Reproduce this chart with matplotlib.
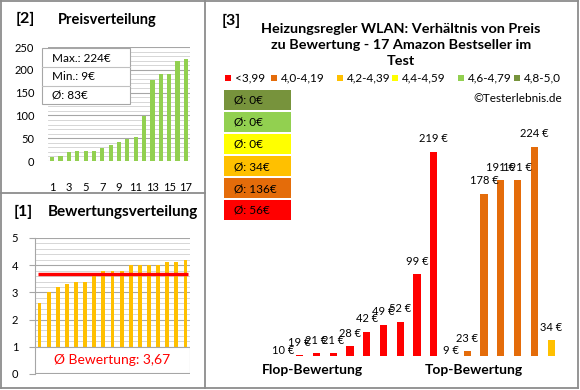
import matplotlib
matplotlib.use('Agg')
import matplotlib.pyplot as plt
from matplotlib.patches import Rectangle
from matplotlib.lines import Line2D
from matplotlib.ticker import MultipleLocator

plt.rcParams['font.family'] = ['Lato', 'DejaVu Sans']

# Daten: Preise und Bewertungen der 17 Produkte (von Flop nach Top)
preise = [10, 19, 21, 21, 28, 42, 49, 52, 99, 219, 9, 23, 178, 191, 191, 224, 34]
bewertungen = [2.6, 3.0, 3.2, 3.3, 3.4, 3.4, 3.6, 3.8, 3.8, 3.8,
               4.0, 4.0, 4.0, 4.0, 4.1, 4.1, 4.2]
mittel_bewertung = 3.67
preis_max, preis_min, preis_mittel = 224, 9, 83

gruppen = ['<3,99', '4,0-4,19', '4,2-4,39', '4,4-4,59', '4,6-4,79', '4,8-5,0']
gruppen_farben = ['#FF0000', '#E46C0A', '#FFC000', '#FFFF00', '#92D050', '#77933C']
gruppen_grenzen = [0, 4.0, 4.2, 4.4, 4.6, 4.8]
gruppen_mittel = [56, 136, 34, 0, 0, 0]

W, H = 580, 390
fig = plt.figure(figsize=(W / 100, H / 100), dpi=100)
fig.patch.set_facecolor('white')


def achse(x0, y0, x1, y1):
    # Achse in Pixelkoordinaten (von oben links) anlegen
    return fig.add_axes([x0 / W, 1 - y1 / H, (x1 - x0) / W, (y1 - y0) / H])


def fig_text(x, y, s, **kw):
    fig.text(x / W, 1 - y / H, s, **kw)


def fig_linie(x0, y0, x1, y1, farbe='#8C8C8C', lw=1.3):
    fig.add_artist(Line2D([x0 / W, x1 / W], [1 - y0 / H, 1 - y1 / H],
                          transform=fig.transFigure, color=farbe, lw=lw))


def fig_rechteck(x0, y0, x1, y1, fc, ec='none', lw=0.8):
    fig.add_artist(Rectangle((x0 / W, 1 - y1 / H), (x1 - x0) / W, (y1 - y0) / H,
                             transform=fig.transFigure, fc=fc, ec=ec, lw=lw))


# Rahmen der drei Felder
fig_linie(1, 1, 578, 1)
fig_linie(1, 388, 578, 388)
fig_linie(1, 1, 1, 388)
fig_linie(578, 1, 578, 388)
fig_linie(205, 1, 205, 388)
fig_linie(1, 193, 205, 193)

# ---------------- [2] Preisverteilung ----------------
fig_text(16, 19, '[2]', fontsize=11.5, fontweight='bold', va='center')
fig_text(58, 20, 'Preisverteilung', fontsize=10.5, fontweight='bold', va='center')

ax2 = achse(48, 47, 190, 161)
pos = list(range(1, len(preise) + 1))
ax2.bar(pos, sorted(preise), width=0.5, color='#92D050', zorder=3)
ax2.set_xlim(0.5, 17.5)
ax2.set_ylim(0, 250)
ax2.yaxis.set_major_locator(MultipleLocator(50))
ax2.yaxis.set_minor_locator(MultipleLocator(10))
ax2.set_xticks(pos[::2])
ax2.grid(which='major', axis='y', color='#A6A6A6', lw=0.8)
ax2.grid(which='minor', axis='y', color='#D0D0D0', lw=0.6)
for s in ax2.spines.values():
    s.set_visible(False)
ax2.tick_params(which='both', length=0, labelsize=8, pad=10)
ax2.tick_params(axis='x', pad=15)

fig_rechteck(42, 48, 130, 104, 'white', '#A6A6A6')
fig_linie(42, 67, 130, 67, '#C0C0C0', 0.8)
fig_linie(42, 86, 130, 86, '#C0C0C0', 0.8)
fig_text(52, 59, f'Max.: {preis_max}€', fontsize=8.5, va='center')
fig_text(52, 77, f'Min.: {preis_min}€', fontsize=8.5, va='center')
fig_text(52, 95, f'Ø: {preis_mittel}€', fontsize=8.5, va='center')

# ---------------- [1] Bewertungsverteilung ----------------
fig_text(14, 212, '[1]', fontsize=11.5, fontweight='bold', va='center')
fig_text(48, 212, 'Bewertungsverteilung', fontsize=11, fontweight='bold', va='center')

ax1 = achse(35, 238, 190, 374)
ax1.bar(pos, bewertungen, width=0.42, color='#FFC000', zorder=3)
ax1.set_xlim(0.5, 17.5)
ax1.set_ylim(0, 5)
ax1.yaxis.set_major_locator(MultipleLocator(1))
ax1.yaxis.set_minor_locator(MultipleLocator(0.2))
ax1.set_xticks([])
ax1.grid(which='major', axis='y', color='#A6A6A6', lw=0.8)
ax1.grid(which='minor', axis='y', color='#D0D0D0', lw=0.6)
for k in ['top', 'right', 'bottom']:
    ax1.spines[k].set_visible(False)
ax1.spines['left'].set_color('#A6A6A6')
ax1.tick_params(which='major', length=4, color='#A6A6A6', labelsize=8, pad=8)
ax1.tick_params(which='minor', length=0)
ax1.hlines(mittel_bewertung, 0.8, 17.25, color='#FF0000', lw=2.4, zorder=4)
ax1.add_patch(Rectangle((0.5, 0.03), 17, 0.97, fc='white', ec='#A6A6A6',
                        lw=0.8, zorder=5))
ax1.text(9, 0.52, 'Ø Bewertung: ' + f'{mittel_bewertung:.2f}'.replace('.', ','),
         color='#FF0000', fontsize=10, ha='center', va='center', zorder=6)

# ---------------- [3] Preis / Bewertung ----------------
fig_text(222, 21, '[3]', fontsize=11.5, fontweight='bold', va='center')
fig_text(401, 45, 'Heizungsregler WLAN: Verhältnis von Preis\n'
         'zu Bewertung - 17 Amazon Bestseller im\nTest',
         fontsize=10.4, fontweight='bold', ha='center', va='center',
         linespacing=1.42)

# Legende
leg_x = [225, 271, 337, 392, 458, 514]
for x, lab, col in zip(leg_x, gruppen, gruppen_farben):
    fig_rechteck(x, 75, x + 6, 81, col)
    fig_text(x + 10, 78, lab, fontsize=8.5, va='center')
fig_text(562, 99, '©Testerlebnis.de', fontsize=8.5, ha='right', va='center')

# Farbboxen mit Durchschnittspreisen (von oben: beste Gruppe)
for i, (col, m) in enumerate(zip(gruppen_farben[::-1], gruppen_mittel[::-1])):
    y0 = 90 + 22 * i
    fig_rechteck(224, y0, 291, y0 + 20, col)
    fig_text(234, y0 + 10.5, f'Ø: {m}€', fontsize=8.5, va='center')


def farbe_fuer(b):
    f = gruppen_farben[0]
    for g, c in zip(gruppen_grenzen, gruppen_farben):
        if b >= g:
            f = c
    return f


ax3 = achse(274.6, 120, 559.4, 356)
ymin3, ymax3 = 18.4, 250.4
ax3.bar(pos, preise, width=0.42, color=[farbe_fuer(b) for b in bewertungen])
ax3.set_xlim(0.5, 17.5)
ax3.set_ylim(ymin3, ymax3)
ax3.axis('off')
for x, v in zip(pos, preise):
    if v > ymin3:
        y, off = v, 13
    else:
        y, off = ymin3, 5
    ax3.annotate(f'{v} €', (x, y), xytext=(0, off), textcoords='offset pixels',
                 ha='center', va='center', fontsize=8)

fig_text(312, 370, 'Flop-Bewertung', fontsize=10, fontweight='bold',
         ha='center', va='center')
fig_text(474, 370, 'Top-Bewertung', fontsize=10, fontweight='bold',
         ha='center', va='center')

fig.savefig('out.png', dpi=100)
